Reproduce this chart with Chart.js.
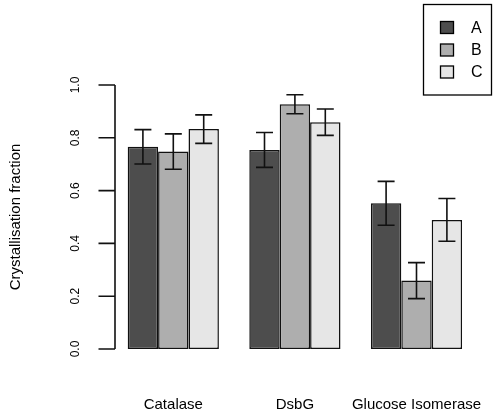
<!DOCTYPE html>
<html lang="en">
<head>
  <meta charset="UTF-8">
  <title>Crystallisation fraction</title>
  <style>
    body { margin: 0; padding: 0; background: #fff; }
    canvas { display: block; }
  </style>
</head>
<body>
  <canvas id="chart" width="498" height="415"></canvas>

  <script src="https://cdn.jsdelivr.net/npm/chart.js"></script>
  <script>
    // Data
    const categories = ['Catalase', 'DsbG', 'Glucose Isomerase'];
    const seriesNames = ['A', 'B', 'C'];
    const valuesA = [0.766, 0.754, 0.552];
    const valuesB = [0.748, 0.927, 0.259];
    const valuesC = [0.833, 0.859, 0.489];
    const errA = [0.065, 0.066, 0.083];
    const errB = [0.067, 0.036, 0.068];
    const errC = [0.054, 0.050, 0.081];
    const yTicks = [0, 0.2, 0.4, 0.6, 0.8, 1.0];
    const yTitle = 'Crystallisation fraction';

    const fills = ['#4D4D4D', '#AEAEAE', '#E6E6E6'];
    const FONT = '"Liberation Sans", Arial, sans-serif';

    // R style axis, error bars and legend box
    const rStyle = {
      id: 'rStyle',
      afterDatasetsDraw(chart) {
        const ctx = chart.ctx;
        const y = chart.scales.y;
        const errs = [errA, errB, errC];
        ctx.save();
        ctx.strokeStyle = '#111';
        ctx.lineWidth = 1.6;
        chart.data.datasets.forEach((ds, i) => {
          const meta = chart.getDatasetMeta(i);
          meta.data.forEach((bar, j) => {
            const v = ds.data[j], e = errs[i][j];
            const top = y.getPixelForValue(v + e);
            const bot = y.getPixelForValue(v - e);
            ctx.beginPath();
            ctx.moveTo(bar.x, top); ctx.lineTo(bar.x, bot);
            ctx.moveTo(bar.x - 8.5, top); ctx.lineTo(bar.x + 8.5, top);
            ctx.moveTo(bar.x - 8.5, bot); ctx.lineTo(bar.x + 8.5, bot);
            ctx.stroke();
          });
        });
        ctx.restore();
      },
      afterDraw(chart) {
        const ctx = chart.ctx;
        const y = chart.scales.y;
        const axisX = 115;
        ctx.save();
        ctx.strokeStyle = '#111';
        ctx.lineWidth = 1.6;
        ctx.beginPath();
        ctx.moveTo(axisX, y.getPixelForValue(yTicks[0]));
        ctx.lineTo(axisX, y.getPixelForValue(yTicks[yTicks.length - 1]));
        yTicks.forEach(t => {
          const py = y.getPixelForValue(t);
          ctx.moveTo(axisX, py);
          ctx.lineTo(axisX - 16.5, py);
        });
        ctx.stroke();

        // rotated tick labels
        ctx.fillStyle = '#000';
        ctx.font = '12px ' + FONT;
        ctx.textAlign = 'center';
        ctx.textBaseline = 'middle';
        yTicks.forEach(t => {
          ctx.save();
          ctx.translate(75.5, y.getPixelForValue(t));
          ctx.rotate(-Math.PI / 2);
          ctx.fillText(t.toFixed(1), 0, 0);
          ctx.restore();
        });

        // axis title
        ctx.save();
        ctx.font = '15px ' + FONT;
        ctx.translate(16, (y.getPixelForValue(0) + y.getPixelForValue(1)) / 2);
        ctx.rotate(-Math.PI / 2);
        ctx.fillText(yTitle, 0, 0);
        ctx.restore();

        // legend box
        ctx.lineWidth = 1.3;
        ctx.strokeStyle = '#000';
        ctx.strokeRect(423.5, 4.5, 68, 90.5);
        ctx.font = '16px ' + FONT;
        ctx.textAlign = 'left';
        const rowY = [27.5, 50, 72];
        chart.data.datasets.forEach((ds, i) => {
          ctx.fillStyle = ds.backgroundColor;
          ctx.fillRect(440.5, rowY[i] - 6, 13, 12);
          ctx.strokeRect(440.5, rowY[i] - 6, 13, 12);
          ctx.fillStyle = '#000';
          ctx.fillText(ds.label, 471, rowY[i] + 1);
        });
        ctx.restore();
      }
    };

    const ctx = document.getElementById('chart').getContext('2d');
    const chart = new Chart(ctx, {
      type: 'bar',
      data: {
        labels: categories,
        datasets: [
          { label: seriesNames[0], data: valuesA, backgroundColor: fills[0] },
          { label: seriesNames[1], data: valuesB, backgroundColor: fills[1] },
          { label: seriesNames[2], data: valuesC, backgroundColor: fills[2] }
        ]
      },
      options: {
        responsive: false,
        animation: false,
        devicePixelRatio: 1,
        layout: { padding: { left: 112.5, right: 20.7, top: 85, bottom: 1 } },
        datasets: {
          bar: {
            borderColor: '#111',
            borderWidth: 1.5,
            borderSkipped: false,
            categoryPercentage: 0.75,
            barPercentage: 1
          }
        },
        plugins: {
          legend: { display: false },
          tooltip: { enabled: false }
        },
        scales: {
          x: {
            grid: { display: false, drawTicks: false },
            border: { display: false },
            ticks: {
              color: '#000',
              padding: 47,
              maxRotation: 0,
              autoSkip: false,
              font: { size: 15, family: FONT }
            },
            afterFit(scale) {
              // keep the plot region fixed, labels may overhang
              scale.height = 65;
              scale.paddingLeft = 0;
              scale.paddingRight = 0;
            }
          },
          y: {
            display: false,
            min: 0,
            max: 1
          }
        }
      },
      plugins: [rStyle]
    });
  </script>
</body>
</html>
